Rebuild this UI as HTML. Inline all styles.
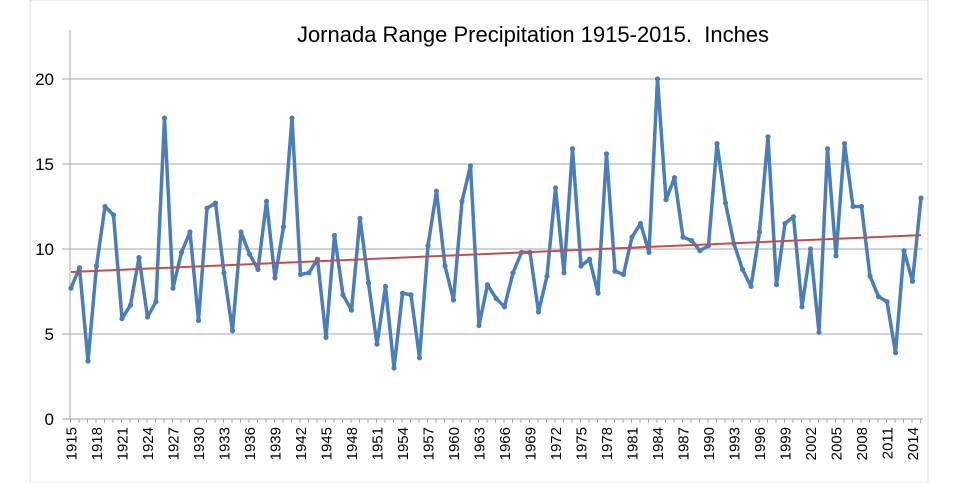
<!DOCTYPE html>
<html><head><meta charset="utf-8"><style>
body{margin:0;background:#fff}
svg{display:block;font-family:"Liberation Sans",Arial,sans-serif}
</style></head><body>
<svg id="chart" width="964" height="483">
<rect x="30" y="0" width="898" height="483" fill="none" stroke="#d9d9d9"/>
<text x="533" y="42" font-size="22" text-anchor="middle" fill="#000">Jornada Range Precipitation 1915-2015.&#160; Inches</text>
<g id="grid"></g><g id="axes"></g><g id="series"></g>
</svg>
<script>
const startYear = 1915;
const values = [7.7,8.9,3.4,9.0,12.5,12.0,5.9,6.7,9.5,6.0,6.9,17.7,7.7,9.8,11.0,5.8,12.4,12.7,8.6,5.2,11.0,9.7,8.8,12.8,8.3,11.3,17.7,8.5,8.6,9.4,4.8,10.8,7.3,6.4,11.8,8.0,4.4,7.8,3.0,7.4,7.3,3.6,10.2,13.4,9.0,7.0,12.8,14.9,5.5,7.9,7.1,6.6,8.6,9.8,9.8,6.3,8.4,13.6,8.6,15.9,9.0,9.4,7.4,15.6,8.7,8.5,10.7,11.5,9.8,20.0,12.9,14.2,10.7,10.5,9.9,10.2,16.2,12.7,10.3,8.8,7.8,11.0,16.6,7.9,11.5,11.9,6.6,10.0,5.1,15.9,9.6,16.2,12.5,12.5,8.4,7.2,6.9,3.9,9.9,8.1,13.0];
const yTicks = [0,5,10,15,20];
const labelStep = 3;

const NS="http://www.w3.org/2000/svg";
const x0=71, x1=921, yBase=419, yTop=79, yMax=20;
const xs=i=>x0+(x1-x0)*i/(values.length-1);
const ys=v=>yBase-(yBase-yTop)*v/yMax;
function mk(tag,attrs,parent){const e=document.createElementNS(NS,tag);for(const k in attrs)e.setAttribute(k,attrs[k]);parent.appendChild(e);return e;}
const grid=document.getElementById('grid'),axes=document.getElementById('axes'),ser=document.getElementById('series');

yTicks.forEach(t=>{
  if(t>0){const l=mk('line',{x1:62,x2:x1+2,y1:ys(t),y2:ys(t),stroke:'#a6a6a6','stroke-width':1},grid);
  
  }
  const tx=mk('text',{x:54,y:ys(t)+6,'font-size':17,'text-anchor':'end',fill:'#000'},axes);
  tx.textContent=t;
  
  
});
const ya=mk('line',{x1:70,x2:70,y1:30,y2:yBase,stroke:'#a6a6a6'},axes);


const xa=mk('line',{x1:62,x2:x1+2,y1:yBase,y2:yBase,stroke:'#a6a6a6'},axes);


values.forEach((v,i)=>{
  const tk=mk('line',{x1:xs(i)-0.5,x2:xs(i)-0.5,y1:yBase,y2:yBase+4,stroke:'#a6a6a6'},axes);
  
  
  if(i%labelStep===0){
    const X=xs(i)+5.5,Y=yBase+8;
    const t=mk('text',{x:X,y:Y,'font-size':15,'text-anchor':'end',transform:`rotate(-90 ${X} ${Y})`,fill:'#000'},axes);
    t.textContent=startYear+i;
    
    
  }
});
const pts=values.map((v,i)=>xs(i)+','+ys(v)).join(' ');
const pl=mk('polyline',{points:pts,fill:'none',stroke:'#4a7ebb','stroke-width':3.5,'stroke-linejoin':'round'},ser);


values.forEach((v,i)=>{
  const c=mk('circle',{cx:xs(i),cy:ys(v),r:2.6,fill:'#4a7ebb'},ser);
  
  
});
const n=values.length;let sx=0,sy=0,sxy=0,sxx=0;
values.forEach((v,i)=>{sx+=i;sy+=v;sxy+=i*v;sxx+=i*i;});
const b=(n*sxy-sx*sy)/(n*sxx-sx*sx),a=(sy-b*sx)/n;
const tl=mk('line',{x1:xs(0),y1:ys(a),x2:xs(n-1),y2:ys(a+b*(n-1)),stroke:'#c0504d','stroke-width':2},ser);


</script>
</body></html>
